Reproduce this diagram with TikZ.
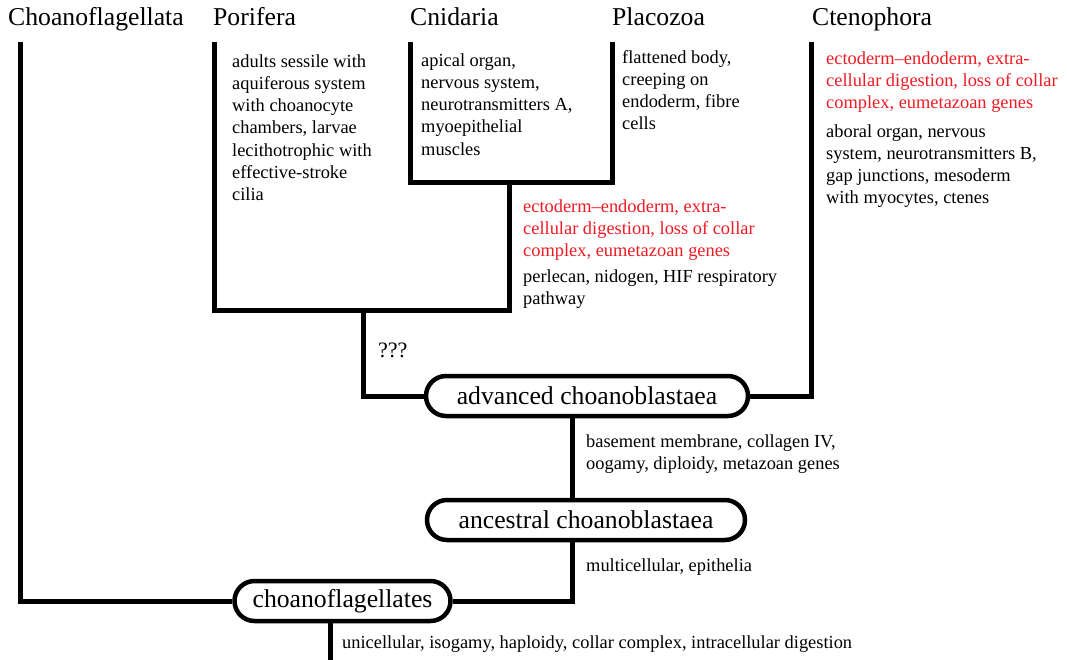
\documentclass[tikz,border=0pt]{standalone}
\usepackage{fontspec}
\setmainfont{Liberation Serif}
\usetikzlibrary{calc}
\definecolor{accent}{RGB}{237,28,36}
\begin{document}
\begin{tikzpicture}[x=1pt,y=-1pt,
  tree/.style={line width=5pt, line join=miter},
  title/.style={font=\fontsize{25.7}{30}\selectfont, anchor=base west, inner sep=0pt},
  desc/.style={font=\fontsize{18.4}{22.2}\selectfont, align=left, anchor=north west, inner sep=0pt},
  onel/.style={font=\fontsize{18.4}{22.2}\selectfont, anchor=base west, inner sep=0pt},
  pill/.style={draw, line width=4.5pt, rounded corners=20pt, minimum height=40pt, fill=white,
    font=\fontsize{25.7}{30}\selectfont, inner sep=0pt}]
\useasboundingbox (0,0) rectangle (1067,660);

% titles
\node[title] (tchoano) at (8,26) {Choanoflagellata};
\node[title] (tpori) at (213,26) {Porifera};
\node[title] (tcnid) at (410,26) {Cnidaria};
\node[title] (tplac) at (612,26) {Placozoa};
\node[title] (tcten) at (812,26) {Ctenophora};

% named points
\coordinate (ctop) at (20,42);
\coordinate (ptop) at (214,42);
\coordinate (ntop) at (410,42);
\coordinate (ztop) at (612,42);
\coordinate (ttop) at (811,42);
\coordinate (cnj) at (509,183);
\coordinate (pcj) at (363,310);
\coordinate (bot) at (330,662);

% pill nodes
\node[pill, minimum width=322pt] (adv) at (587,396) {advanced choanoblastaea};
\node[pill, minimum width=318pt] (anc) at (586,520) {ancestral choanoblastaea};
\node[pill, minimum width=216pt] (chf) at (342.5,601) {choanoflagellates};

% tree
\draw[tree] (ntop) |- (ztop |- cnj) -- (ztop);
\draw[tree] (ptop) |- (cnj |- pcj) -- (cnj);
\draw[tree] (pcj) |- (adv.west);
\draw[tree] (adv.east) -| (ttop);
\draw[tree] ([xshift=-15pt]adv.south) -- ([xshift=-14pt]anc.north);
\draw[tree] ([xshift=-14pt]anc.south) |- (chf.east);
\draw[tree] (ctop) |- (chf.west);
\draw[tree] (chf.south -| bot) -- (bot);

% descriptions
\node[desc] (dpori) at (232,51.5) {\strut adults sessile with\\aquiferous system\\with choanocyte\\chambers, larvae\\lecithotrophic with\\effective-stroke\\cilia};
\node[desc] (dcnid) at (421,50.5) {\strut apical organ,\\nervous system,\\neurotransmitters A,\\myoepithelial\\muscles};
\node[desc] (dplac) at (622,47.5) {\strut flattened body,\\creeping on\\endoderm, fibre\\cells};
\node[desc, text=accent] (dmidr) at (523,196.5) {\strut ectoderm--endoderm, extra-\\cellular digestion, loss of collar\\complex, eumetazoan genes};
\node[desc] (dmidb) at (523,266.5) {\strut perlecan, nidogen, HIF respiratory\\pathway};
\node[desc, text=accent] (dctnr) at (826,48.5) {\strut ectoderm--endoderm, extra-\\cellular digestion, loss of collar\\complex, eumetazoan genes};
\node[desc] (dctnb) at (826,121.5) {\strut aboral organ, nervous\\system, neurotransmitters B,\\gap junctions, mesoderm\\with myocytes, ctenes};
\node[title, font=\fontsize{22}{26}\selectfont] (qqq) at (378,357) {???};
\node[desc] (dbase) at (586,431.5) {\strut basement membrane, collagen IV,\\oogamy, diploidy, metazoan genes};
\node[onel] (dmulti) at (586,571) {multicellular, epithelia};
\node[onel] (duni) at (342,648) {unicellular, isogamy, haploidy, collar complex, intracellular digestion};
\end{tikzpicture}
\end{document}
